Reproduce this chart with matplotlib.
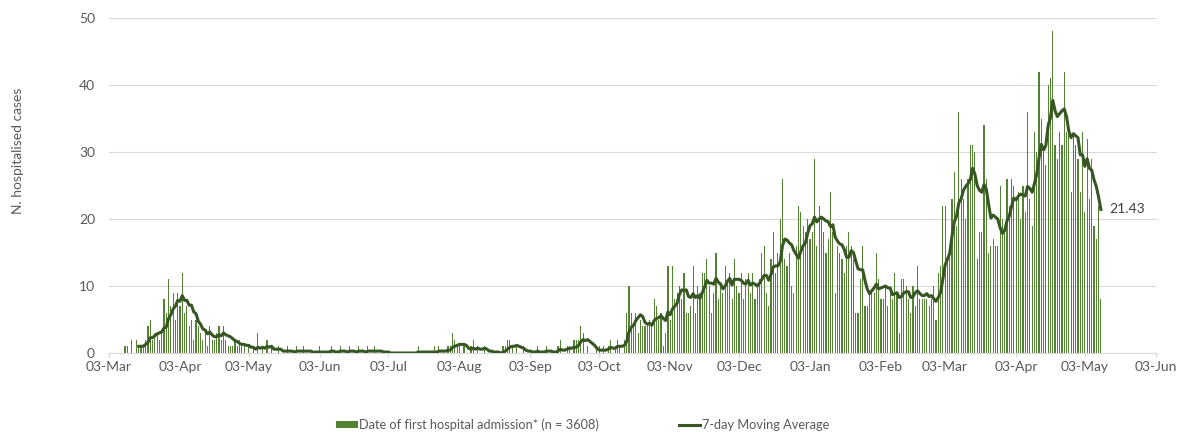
# Standard libraries
import numpy as np
import pandas as pd
import matplotlib
matplotlib.use('Agg')
import matplotlib.pyplot as plt
import matplotlib.dates as mdates

plt.rcParams['font.family'] = ['Lato', 'DejaVu Sans']

# Daily hospital admissions, first value is 10-Mar-2020
mar20 = [1, 1, 0, 2, 0, 2, 1, 1, 1, 2, 4, 5, 2, 3, 3, 2, 3, 8, 6, 11, 7, 9]
apr20 = [5, 9, 7, 12, 6, 7, 4, 5, 2, 5, 4, 3, 2, 3, 1, 4, 2, 2, 3, 4, 2, 4, 2, 1, 1, 1, 2, 1, 2, 1]
may20 = [1, 0, 1, 0, 1, 0, 3, 0, 1, 0, 2, 0, 1, 0, 0, 1, 0, 0, 0, 1, 0, 0, 0, 1, 0, 0, 1, 0, 0, 0, 0]
jun20 = [0, 0, 1, 0, 0, 0, 0, 1, 0, 0, 0, 1, 0, 0, 0, 1, 0, 0, 0, 1, 0, 0, 0, 1, 0, 0, 1, 0, 0, 0]
jul20 = [0, 0, 0, 0, 0, 0, 0, 0, 0, 0, 0, 0, 0, 0, 0, 1, 0, 0, 0, 0, 0, 0, 1, 0, 1, 0, 0, 0, 1, 1, 3]
aug20 = [2, 1, 1, 0, 1, 0, 0, 1, 2, 0, 1, 0, 0, 1, 0, 0, 0, 0, 0, 0, 0, 1, 1, 2, 2, 1, 0, 1, 0, 0, 1]
sep20 = [0, 0, 0, 0, 0, 1, 0, 0, 0, 1, 0, 0, 0, 0, 1, 2, 0, 0, 1, 1, 0, 2, 2, 2, 4, 3, 0, 1, 0, 0]
oct20 = [0, 1, 1, 0, 1, 0, 1, 2, 0, 1, 2, 1, 0, 2, 6, 10, 6, 4, 6, 3, 5, 4, 4, 4, 5, 4, 8, 7, 5, 6, 1]
nov20 = [3, 13, 5, 13, 8, 9, 10, 8, 12, 6, 6, 7, 13, 6, 10, 9, 12, 12, 14, 10, 6, 9, 15, 8, 10, 9, 13, 11, 12, 8]
dec20 = [14, 10, 9, 12, 8, 11, 12, 9, 12, 8, 10, 11, 15, 16, 9, 7, 14, 18, 12, 15, 20, 26, 14, 13, 15, 10, 9, 16, 22, 21, 19]
jan21 = [18, 20, 17, 18, 29, 16, 22, 20, 18, 15, 17, 24, 18, 9, 16, 15, 14, 12, 16, 18, 16, 14, 6, 6, 11, 16, 7, 7, 9, 9, 9]
feb21 = [15, 11, 8, 8, 10, 7, 9, 8, 12, 9, 3, 11, 11, 10, 8, 6, 10, 7, 13, 8, 8, 8, 8, 7, 8, 10, 5, 12]
mar21 = [13, 22, 22, 14, 16, 23, 27, 19, 36, 26, 23, 20, 26, 31, 31, 30, 14, 18, 18, 34, 26, 15, 16, 17, 16, 16, 25, 20, 18, 26, 22]
apr21 = [26, 25, 23, 24, 20, 25, 21, 36, 23, 19, 33, 30, 42, 35, 30, 28, 40, 41, 48, 31, 29, 33, 31, 42, 33, 33, 24, 33, 31, 29]
may21 = [24, 33, 21, 32, 23, 29, 19, 17, 22, 8]

bar_label = 'Date of first hospital admission* (n = 3608)'
ma_label = '7-day Moving Average'

counts = (mar20 + apr20 + may20 + jun20 + jul20 + aug20 + sep20 + oct20
          + nov20 + dec20 + jan21 + feb21 + mar21 + apr21 + may21)
dates = pd.date_range('2020-03-10', periods=len(counts), freq='D')
cases = pd.Series(counts, index=dates)
moving_avg = cases.rolling(7).mean()

# Figure
fig = plt.figure(figsize=(11.77, 4.32), dpi=100)
ax = fig.add_axes([109 / 1177, 79 / 432, 1048 / 1177, 335 / 432])

bars = ax.bar(cases.index, cases.values, width=0.5, color='#548235', linewidth=0,
              label=bar_label, zorder=2)
line, = ax.plot(moving_avg.index, moving_avg.values, color='#375623', linewidth=2.2,
                label=ma_label, zorder=3)

# Last value of the moving average
last_day = moving_avg.index[-1]
last_val = moving_avg.values[-1]
ax.annotate('%.2f' % last_val, xy=(last_day, last_val), xytext=(6, 0),
            textcoords='offset points', va='center', ha='left',
            fontsize=10, color='#404040')

# Axes
ax.set_ylim(0, 50)
ax.set_yticks(np.arange(0, 51, 10))
ax.set_xlim(pd.Timestamp('2020-03-03'), pd.Timestamp('2021-06-03 12:00'))
ax.set_xticks(pd.date_range('2020-03-01', '2021-06-01', freq='MS') + pd.Timedelta(days=2))
ax.xaxis.set_major_formatter(mdates.DateFormatter('%d-%b'))

ax.grid(axis='y', color='#d9d9d9', linewidth=0.8, zorder=0)
ax.set_axisbelow(True)
for side in ['top', 'right', 'left']:
    ax.spines[side].set_visible(False)
ax.spines['bottom'].set_color('#d9d9d9')
ax.tick_params(axis='y', length=0, labelsize=10, labelcolor='#595959', pad=10)
ax.tick_params(axis='x', length=3, color='#d9d9d9', labelsize=10,
               labelcolor='#595959', pad=3)

fig.text(18 / 1177, 1 - 151 / 432, 'N. hospitalised cases', rotation=90,
         ha='center', va='center', fontsize=10, color='#595959')

fig.legend(handles=[bars, line], labels=[bar_label, ma_label],
           loc='center', bbox_to_anchor=(0.495, 0.016), ncol=2, frameon=False,
           fontsize=9.2, labelcolor='#595959', handlelength=1.65, handleheight=0.5,
           handletextpad=0.15, columnspacing=6.2)

fig.savefig('out.png', dpi=100)
